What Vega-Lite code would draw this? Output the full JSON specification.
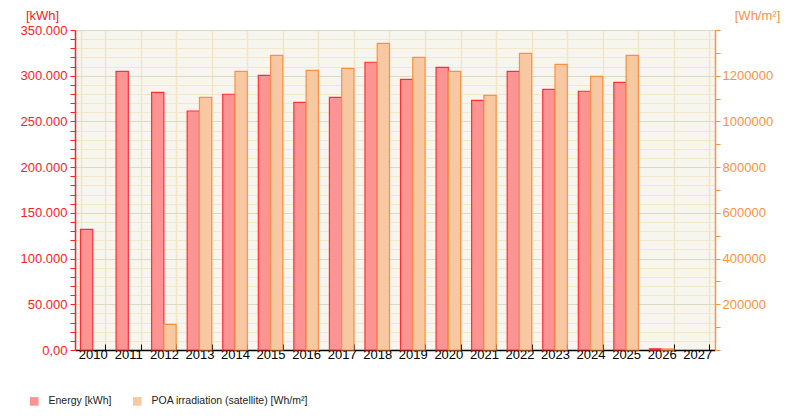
{
  "$schema": "https://vega.github.io/schema/vega-lite/v6.json",
  "width": 640,
  "height": 320,
  "autosize": "none",
  "padding": {"left": 75, "top": 30, "right": 75, "bottom": 70},
  "background": "#ffffff",
  "config": {
    "font": "Liberation Sans",
    "view": {"fill": "#f6f6ef", "stroke": null},
    "axis": {"labelFont": "Liberation Sans", "titleFont": "Liberation Sans", "labelFontSize": 13, "titleFontSize": 13, "titleFontWeight": "normal"}
  },
  "data": {
    "values": [
      {"year": "2010", "series": "Energy [kWh]", "value": 132000},
      {"year": "2011", "series": "Energy [kWh]", "value": 304800},
      {"year": "2012", "series": "Energy [kWh]", "value": 281800},
      {"year": "2013", "series": "Energy [kWh]", "value": 261400},
      {"year": "2014", "series": "Energy [kWh]", "value": 279700},
      {"year": "2015", "series": "Energy [kWh]", "value": 300400},
      {"year": "2016", "series": "Energy [kWh]", "value": 270900},
      {"year": "2017", "series": "Energy [kWh]", "value": 276400},
      {"year": "2018", "series": "Energy [kWh]", "value": 314700},
      {"year": "2019", "series": "Energy [kWh]", "value": 296100},
      {"year": "2020", "series": "Energy [kWh]", "value": 309200},
      {"year": "2021", "series": "Energy [kWh]", "value": 273100},
      {"year": "2022", "series": "Energy [kWh]", "value": 304800},
      {"year": "2023", "series": "Energy [kWh]", "value": 285100},
      {"year": "2024", "series": "Energy [kWh]", "value": 283000},
      {"year": "2025", "series": "Energy [kWh]", "value": 292800},
      {"year": "2026", "series": "Energy [kWh]", "value": 1300},
      {"year": "2012", "series": "POA irradiation (satellite) [Wh/m²]", "value": 112400},
      {"year": "2013", "series": "POA irradiation (satellite) [Wh/m²]", "value": 1105600},
      {"year": "2014", "series": "POA irradiation (satellite) [Wh/m²]", "value": 1219300},
      {"year": "2015", "series": "POA irradiation (satellite) [Wh/m²]", "value": 1289300},
      {"year": "2016", "series": "POA irradiation (satellite) [Wh/m²]", "value": 1223700},
      {"year": "2017", "series": "POA irradiation (satellite) [Wh/m²]", "value": 1232400},
      {"year": "2018", "series": "POA irradiation (satellite) [Wh/m²]", "value": 1341800},
      {"year": "2019", "series": "POA irradiation (satellite) [Wh/m²]", "value": 1280600},
      {"year": "2020", "series": "POA irradiation (satellite) [Wh/m²]", "value": 1219300},
      {"year": "2021", "series": "POA irradiation (satellite) [Wh/m²]", "value": 1114300},
      {"year": "2022", "series": "POA irradiation (satellite) [Wh/m²]", "value": 1298100},
      {"year": "2023", "series": "POA irradiation (satellite) [Wh/m²]", "value": 1250000},
      {"year": "2024", "series": "POA irradiation (satellite) [Wh/m²]", "value": 1197400},
      {"year": "2025", "series": "POA irradiation (satellite) [Wh/m²]", "value": 1289300},
      {"year": "2026", "series": "POA irradiation (satellite) [Wh/m²]", "value": 4500}
    ]
  },
  "encoding": {
    "x": {
      "field": "year", "type": "ordinal",
      "scale": {"domain": ["2010","2011","2012","2013","2014","2015","2016","2017","2018","2019","2020","2021","2022","2023","2024","2025","2026","2027"], "paddingInner": 0.31, "paddingOuter": 0.155},
      "axis": {
        "title": null, "labelAngle": 0, "labelColor": "#000000", "labelPadding": 4,
        "tickBand": "extent", "tickSize": -6, "tickColor": "#000000", "domainColor": "#000000",
        "domainWidth": 1.5, "grid": true, "gridColor": "#f3e6c6", "gridWidth": 1.5
      }
    },
    "xOffset": {"field": "series", "type": "nominal", "scale": {"domain": ["Energy [kWh]", "POA irradiation (satellite) [Wh/m²]"], "paddingInner": 0}},
    "color": {
      "field": "series", "type": "nominal",
      "scale": {"domain": ["Energy [kWh]", "POA irradiation (satellite) [Wh/m²]"], "range": ["#fc9494", "#f8c8a2"]},
      "legend": {
        "title": null, "orient": "none", "direction": "horizontal", "legendX": -46, "legendY": 366,
        "symbolType": "square", "symbolSize": 75, "symbolStrokeWidth": 0, "symbolOpacity": 1,
        "labelFontSize": 10.5, "labelColor": "#222222", "labelOffset": 9, "columnPadding": 20, "padding": 0
      }
    }
  },
  "layer": [
    {
      "transform": [{"filter": "datum.series === 'Energy [kWh]'"}],
      "mark": {"type": "bar", "stroke": "#ff3030", "strokeWidth": 1.2, "fillOpacity": 1},
      "encoding": {
        "y": {
          "field": "value", "type": "quantitative",
          "scale": {"domain": [0, 350000], "nice": false},
          "axis": {
            "orient": "left", "title": "[kWh]", "titleAngle": 0, "titleColor": "#ff2020",
            "titleAlign": "center", "titleBaseline": "alphabetic", "titleX": -33, "titleY": -11,
            "values": [0,10000,20000,30000,40000,50000,60000,70000,80000,90000,100000,110000,120000,130000,140000,150000,160000,170000,180000,190000,200000,210000,220000,230000,240000,250000,260000,270000,280000,290000,300000,310000,320000,330000,340000,350000],
            "labelExpr": "datum.value % 50000 !== 0 ? '' : (datum.value === 0 ? '0,00' : format(datum.value / 1000, 'd') + '.000')",
            "labelColor": "#ff2020", "labelPadding": 3, "tickSize": 5, "tickColor": "#ff2020", "domainColor": "#ff2020", "domainWidth": 1.5,
            "grid": true,
            "gridColor": {"condition": {"test": "datum.value % 50000 === 0", "value": "#d9dbc4"}, "value": "#f3e8cc"},
            "gridWidth": 1.2
          }
        }
      }
    },
    {
      "transform": [{"filter": "datum.series !== 'Energy [kWh]'"}],
      "mark": {"type": "bar", "stroke": "#ff9040", "strokeWidth": 1.2, "fillOpacity": 1},
      "encoding": {
        "y": {
          "field": "value", "type": "quantitative",
          "scale": {"domain": [0, 1400000], "nice": false},
          "axis": {
            "orient": "right", "title": "[Wh/m²]", "titleAngle": 0, "titleColor": "#ff9040",
            "titleAlign": "center", "titleBaseline": "alphabetic", "titleX": 42, "titleY": -11,
            "values": [0,100000,200000,300000,400000,500000,600000,700000,800000,900000,1000000,1100000,1200000,1300000,1400000],
            "labelExpr": "(datum.value % 200000 === 0 && datum.value > 0 && datum.value < 1400000) ? format(datum.value, 'd') : ''",
            "labelColor": "#ff9040", "labelPadding": 2, "tickSize": 5, "tickColor": "#ff9040", "domainColor": "#ff9040", "domainWidth": 1.5,
            "grid": false
          }
        }
      }
    }
  ],
  "resolve": {"scale": {"y": "independent"}}
}
